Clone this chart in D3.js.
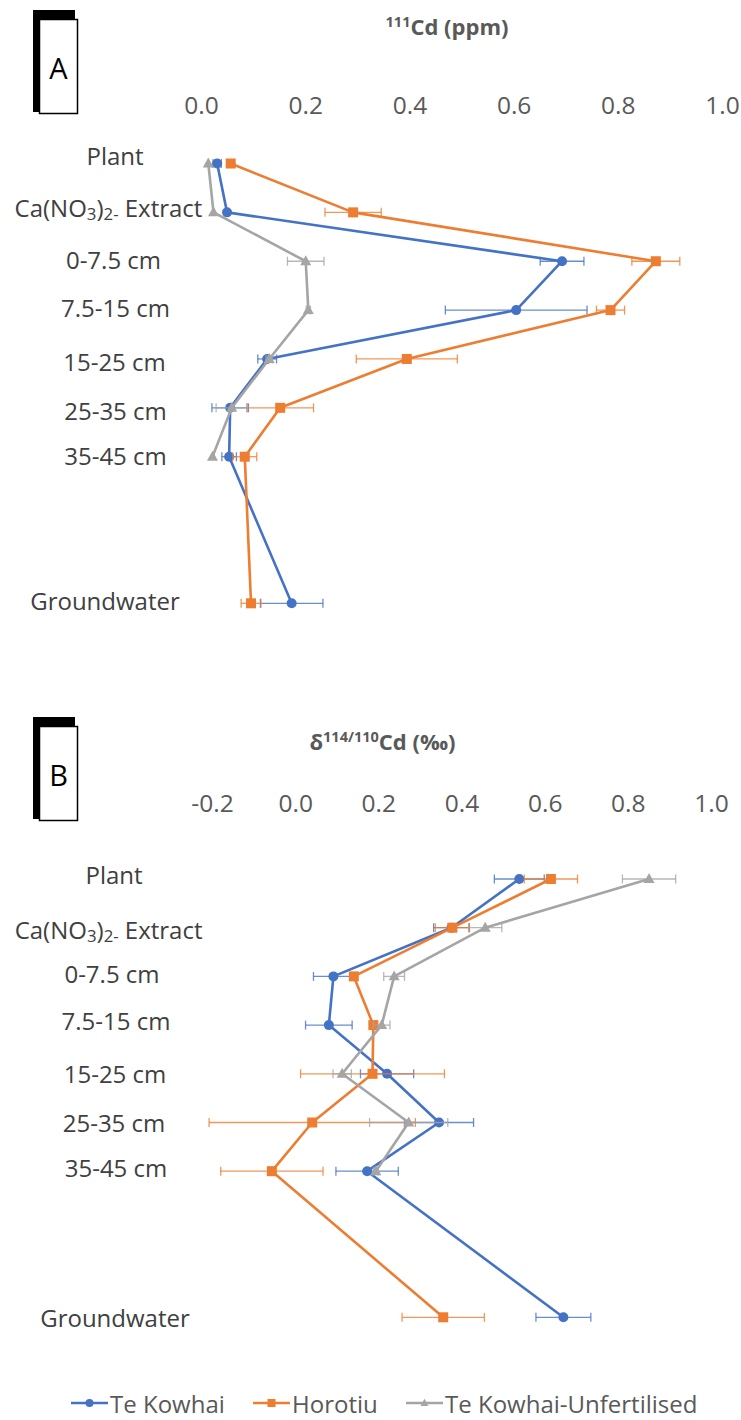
<!DOCTYPE html>
<html>
<head>
<meta charset="utf-8">
<script src="https://cdn.jsdelivr.net/npm/d3@7"></script>
<style>
  html, body { margin: 0; padding: 0; background: #fff; }
  svg { display: block; font-family: "Open Sans", "Noto Sans", sans-serif; }
</style>
</head>
<body>
<svg id="chart" width="741" height="1420"></svg>
<script>
// Sample categories (top to bottom) and their positions on the depth axis
const categories = ["Plant", "Ca(NO3)2- Extract", "0-7.5 cm", "7.5-15 cm", "15-25 cm", "25-35 cm", "35-45 cm", "Groundwater"];
const categoryPos = [0, 1, 2, 3, 4, 5, 6, 9];

const seriesNames = ["Te Kowhai", "Horotiu", "Te Kowhai-Unfertilised"];

// Panel A: 111Cd concentration (ppm) and standard deviation
const cdTeKowhai      = [0.031, 0.050, 0.693, 0.605, 0.127, 0.056, 0.054, 0.174];
const cdTeKowhaiErr   = [0.008, 0.000, 0.042, 0.136, 0.018, 0.035, 0.014, 0.060];
const cdHorotiu       = [0.057, 0.292, 0.873, 0.786, 0.395, 0.152, 0.084, 0.096];
const cdHorotiuErr    = [0.000, 0.054, 0.046, 0.027, 0.097, 0.064, 0.023, 0.019];
const cdUnfert        = [0.014, 0.024, 0.201, 0.206, 0.131, 0.059, 0.022, null];
const cdUnfertErr     = [0.000, 0.000, 0.035, 0.004, 0.006, 0.030, 0.000, null];

// Panel B: delta 114/110 Cd (per mil) and standard deviation
const dTeKowhai       = [0.539, 0.376, 0.092, 0.081, 0.221, 0.346, 0.173, 0.645];
const dTeKowhaiErr    = [0.060, 0.043, 0.048, 0.056, 0.064, 0.083, 0.075, 0.066];
const dHorotiu        = [0.615, 0.378, 0.141, 0.188, 0.186, 0.041, -0.056, 0.356];
const dHorotiuErr     = [0.064, 0.041, 0.005, 0.006, 0.173, 0.248, 0.123, 0.099];
const dUnfert         = [0.851, 0.457, 0.238, 0.208, 0.113, 0.273, 0.194, null];
const dUnfertErr      = [0.064, 0.040, 0.025, 0.020, 0.022, 0.094, 0.006, null];

const cdTicks    = [0, 0.2, 0.4, 0.6, 0.8, 1.0];
const deltaTicks = [-0.2, 0, 0.2, 0.4, 0.6, 0.8, 1.0];

const colors  = ["#4472C4", "#ED7D31", "#A5A5A5"];
const symbols = ["circle", "square", "triangle"];
const textColor = "#404040";

const svg = d3.select("#chart");

function drawMarker(g, type, x, y, size, color) {
  if (type === "circle") {
    g.append("circle").attr("cx", x).attr("cy", y).attr("r", size / 2).attr("fill", color);
  } else if (type === "square") {
    g.append("rect").attr("x", x - size / 2).attr("y", y - size / 2)
      .attr("width", size).attr("height", size).attr("fill", color);
  } else {
    const h = size * 0.9;
    g.append("path")
      .attr("d", `M${x},${y - h * 0.6}L${x + size / 2},${y + h * 0.4}L${x - size / 2},${y + h * 0.4}Z`)
      .attr("fill", color);
  }
}

// Label text with chemical sub-scripts for the extract row
function writeLabel(text, label) {
  if (label.startsWith("Ca(NO3)2")) {
    text.append("tspan").text("Ca(NO");
    text.append("tspan").text("3").attr("font-size", "70%").attr("dy", 6);
    text.append("tspan").text(")").attr("dy", -6);
    text.append("tspan").text("2-").attr("font-size", "70%").attr("dy", 6);
    text.append("tspan").text(" Extract").attr("dy", -6);
  } else {
    text.text(label);
  }
}

function drawPanel(opt) {
  const g = svg.append("g");
  const x = d3.scaleLinear().domain(opt.domain).range(opt.xRange);
  const y = d3.scaleLinear().domain([0, 9]).range(opt.yRange);

  // Panel letter box with its shadow
  g.append("rect").attr("x", 33).attr("y", opt.boxTop).attr("width", 42).attr("height", 102).attr("fill", "#000");
  g.append("rect").attr("x", 39.5).attr("y", opt.boxTop + 9.5).attr("width", 38).attr("height", 94)
    .attr("fill", "#fff").attr("stroke", "#000").attr("stroke-width", 1.5);
  g.append("text").attr("x", 58.5).attr("y", opt.boxTop + 57).attr("text-anchor", "middle")
    .attr("dominant-baseline", "central").attr("font-size", 29).attr("fill", "#000")
    .attr("font-family", "'Open Sans', sans-serif").text(opt.letter);

  // Axis title with superscript mass numbers
  const title = g.append("text").attr("x", opt.titleX).attr("y", opt.titleY)
    .attr("text-anchor", "middle").attr("font-size", 22).attr("font-weight", 700).attr("fill", "#595959");
  opt.title.forEach(part => {
    const t = title.append("tspan").text(part.t);
    if (part.sup) t.attr("font-size", "66%").attr("dy", -8);
    if (part.after) t.attr("dy", 8);
  });

  // Top value axis: labels only
  const axis = d3.axisTop(x).tickValues(opt.ticks).tickFormat(d3.format(".1f")).tickSize(0).tickPadding(0);
  const ag = g.append("g").attr("transform", `translate(0,${opt.tickY})`).call(axis);
  ag.select(".domain").remove();
  ag.selectAll("text").attr("font-size", 24.5).attr("fill", "#595959")
    .attr("font-family", "'Open Sans', sans-serif").attr("dy", null)
    .attr("dominant-baseline", "central")
    .text(d => d3.format(".1f")(d).replace("−", "-"));

  // Category labels
  categories.forEach((c, i) => {
    const t = g.append("text")
      .attr("x", opt.labelX[i])
      .attr("y", y(categoryPos[i]) + opt.labelDy[i])
      .attr("text-anchor", "middle").attr("dominant-baseline", "central")
      .attr("font-size", 24).attr("fill", textColor);
    writeLabel(t, c);
  });

  // Series: error bars, line, markers
  opt.series.forEach((s, si) => {
    const sg = g.append("g");
    const pts = s.values.map((v, i) => ({ v, e: s.errs[i], p: categoryPos[i] }));
    const color = colors[si];

    pts.forEach(d => {
      if (d.v == null || !d.e) return;
      const yy = y(d.p), x0 = x(d.v - d.e), x1 = x(d.v + d.e);
      sg.append("line").attr("x1", x0).attr("x2", x1).attr("y1", yy).attr("y2", yy)
        .attr("stroke", color).attr("stroke-width", 1.3).attr("stroke-opacity", 0.8);
      [x0, x1].forEach(xx => sg.append("line").attr("x1", xx).attr("x2", xx)
        .attr("y1", yy - 4.5).attr("y2", yy + 4.5)
        .attr("stroke", color).attr("stroke-width", 1.3).attr("stroke-opacity", 0.8));
    });

    const line = d3.line().defined(d => d.v != null).x(d => x(d.v)).y(d => y(d.p));
    sg.append("path").datum(pts).attr("d", line).attr("fill", "none")
      .attr("stroke", color).attr("stroke-width", 2.6).attr("stroke-linejoin", "round");

    pts.forEach(d => {
      if (d.v == null) return;
      drawMarker(sg, symbols[si], x(d.v), y(d.p), si === 2 ? 11 : 10, color);
    });
  });
}

drawPanel({
  letter: "A",
  boxTop: 10,
  title: [{ t: "111", sup: true }, { t: "Cd (ppm)", after: true }],
  titleX: 447, titleY: 35,
  domain: [0, 1], xRange: [201, 722],
  ticks: cdTicks, tickY: 104,
  yRange: [163.5, 603.3],
  labelX: [115, 108.5, 113.5, 115.5, 114.5, 115.5, 115.5, 105],
  labelDy: [-8.5, -5, -2, -3, 2.4, 2.4, -1.7, -3.3],
  series: [
    { values: cdTeKowhai, errs: cdTeKowhaiErr },
    { values: cdHorotiu, errs: cdHorotiuErr },
    { values: cdUnfert, errs: cdUnfertErr }
  ]
});

drawPanel({
  letter: "B",
  boxTop: 717,
  title: [{ t: "δ" }, { t: "114/110", sup: true }, { t: "Cd (‰)", after: true }],
  titleX: 382.5, titleY: 750,
  domain: [-0.2, 1.0], xRange: [212, 711],
  ticks: deltaTicks, tickY: 802,
  yRange: [879, 1317.3],
  labelX: [114, 108.6, 112, 116, 115, 114, 116, 115],
  labelDy: [-5, 1, -3, -5, 0, 0, -4, 0],
  series: [
    { values: dTeKowhai, errs: dTeKowhaiErr },
    { values: dHorotiu, errs: dHorotiuErr },
    { values: dUnfert, errs: dUnfertErr }
  ]
});

// Legend
const legend = svg.append("g").attr("transform", "translate(0,1403)");
const legendX = [71, 253, 406];
seriesNames.forEach((n, i) => {
  const lg = legend.append("g").attr("transform", `translate(${legendX[i]},0)`);
  lg.append("line").attr("x1", 0).attr("x2", 37).attr("y1", 0).attr("y2", 0)
    .attr("stroke", colors[i]).attr("stroke-width", 2.6);
  drawMarker(lg, symbols[i], 18.5, 0, 8, colors[i]);
  lg.append("text").attr("x", 39).attr("y", 0).attr("dominant-baseline", "central")
    .attr("font-size", 24).attr("fill", "#595959").text(n);
});
</script>
</body>
</html>
